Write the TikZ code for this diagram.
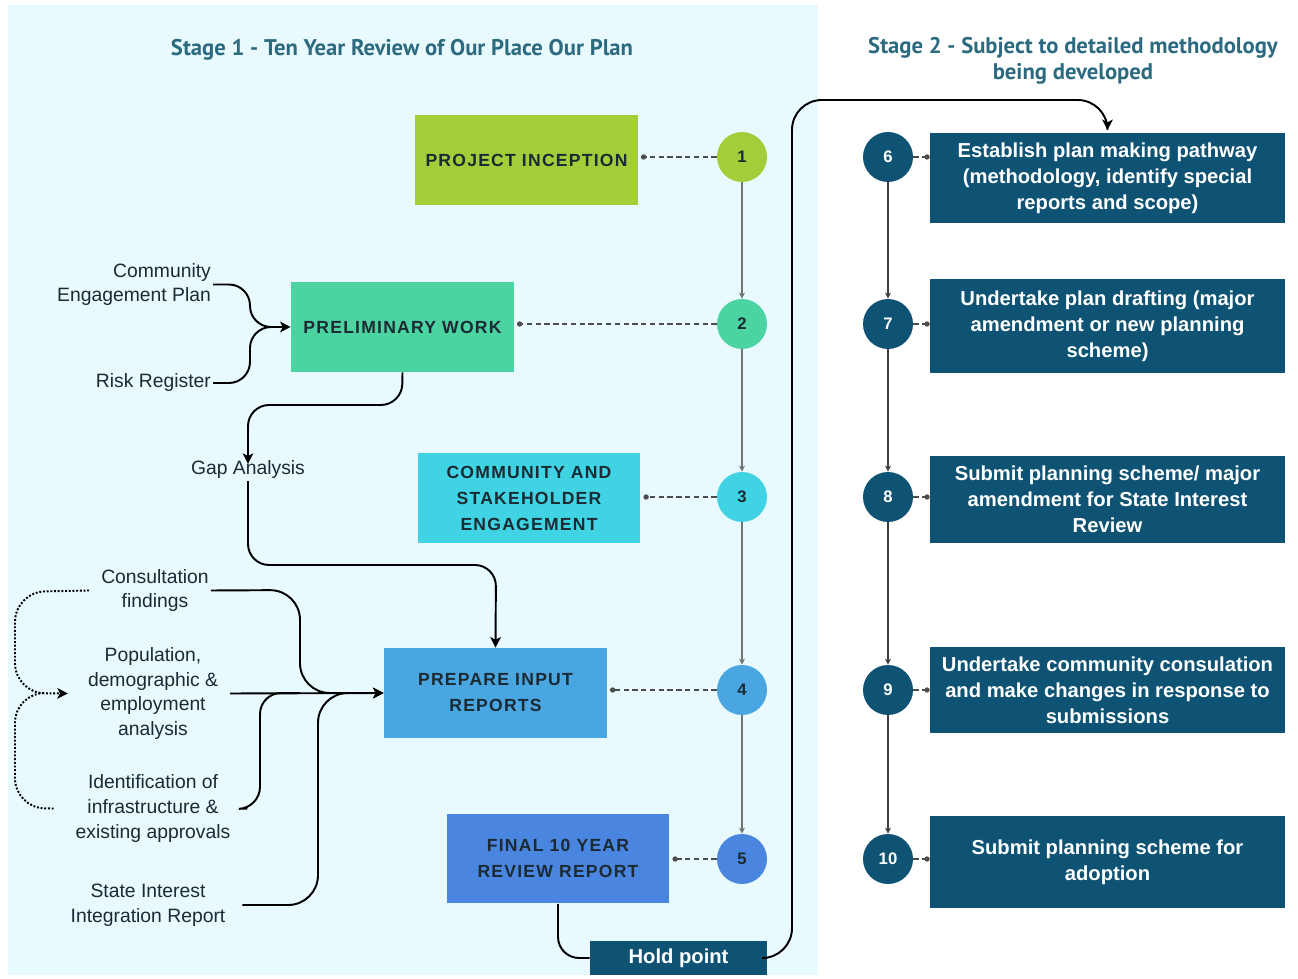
\documentclass[tikz,border=0pt]{standalone}
\usepackage{fontspec}
\setmainfont{Liberation Sans}
\newfontfamily\titlefont{PT Sans}
\newfontfamily\capsfont[LetterSpace=7]{Liberation Sans}
\usetikzlibrary{arrows.meta}
\definecolor{panel}{HTML}{E8FAFD}
\definecolor{heading}{HTML}{2C6A80}
\definecolor{ink}{HTML}{1B2A33}
\definecolor{deep}{HTML}{0E5374}
\definecolor{lime}{HTML}{A4CE39}
\definecolor{mint}{HTML}{4BD3A2}
\definecolor{aqua}{HTML}{40D3E3}
\definecolor{sky}{HTML}{4AA6E1}
\definecolor{royal}{HTML}{4A86E0}
\begin{document}
\begin{tikzpicture}[x=0.02cm,y=-0.02cm,
	stage/.style={align=center,text=heading,font=\titlefont\bfseries\fontsize{12.9}{14.8}\selectfont},
	lbox/.style={minimum width=4.46cm,minimum height=1.8cm,align=center,text=ink,inner sep=0pt,font=\capsfont\bfseries\fontsize{10}{14.8}\selectfont},
	rbox/.style={fill=deep,minimum width=7.1cm,align=center,text=white,inner sep=0pt,font=\bfseries\fontsize{11.5}{14.8}\selectfont},
	lstep/.style={circle,minimum size=1cm,inner sep=0pt,text=ink,font=\bfseries\fontsize{9.5}{10}\selectfont},
	rstep/.style={circle,fill=deep,minimum size=1cm,inner sep=0pt,text=white,font=\bfseries\fontsize{9.5}{10}\selectfont},
	note/.style={align=center,text=ink,inner sep=1pt,font=\fontsize{11}{14.2}\selectfont},
	flow/.style={line width=1.1pt,rounded corners=12pt,-{Stealth[length=6pt,width=6pt,inset=1.5pt]}},
	link/.style={densely dashed,draw=black!70,line width=0.6pt,-{Circle[length=3pt]}},
	seq/.style={draw=black!55,line width=0.8pt,-{Stealth[length=3.5pt,width=3.5pt]}}]
	\useasboundingbox (0,0) rectangle (1298,979);
	\fill [panel] (8,5) rectangle (818,975);
	\node [stage] (st1) at (402,50) {Stage 1 - Ten Year Review of Our Place Our Plan};
	\node [stage] (st2) at (1073,61) {Stage 2 - Subject to detailed methodology\\being developed};
	\node [lbox,fill=lime] (incept) at (526.5,160) {PROJECT INCEPTION};
	\node [lbox,fill=mint] (prelim) at (402.5,327) {PRELIMINARY WORK};
	\node [lbox,fill=aqua] (engage) at (529,498) {COMMUNITY AND\\STAKEHOLDER\\ENGAGEMENT};
	\node [lbox,fill=sky] (inputs) at (495.5,693) {PREPARE INPUT\\REPORTS};
	\node [lbox,fill=royal] (final) at (558,858.5) {FINAL 10 YEAR\\REVIEW REPORT};
	\node [rbox,minimum width=3.54cm,minimum height=0.68cm] (hold) at (678.5,958) {Hold point};
	\node [lstep,fill=lime] (s1) at (742,157) {1};
	\node [lstep,fill=mint] (s2) at (742,324) {2};
	\node [lstep,fill=aqua] (s3) at (742,497) {3};
	\node [lstep,fill=sky] (s4) at (742,690) {4};
	\node [lstep,fill=royal] (s5) at (742,859) {5};
	\node [rstep] (s6) at (888,157) {6};
	\node [rstep] (s7) at (888,324) {7};
	\node [rstep] (s8) at (888,497) {8};
	\node [rstep] (s9) at (888,690) {9};
	\node [rstep] (s10) at (888,859) {10};
	\node [rbox,minimum height=1.8cm] (path) at (1107.5,178) {Establish plan making pathway\\(methodology, identify special\\reports and scope)};
	\node [rbox,minimum height=1.88cm] (draft) at (1107.5,326) {Undertake plan drafting (major\\amendment or new planning\\scheme)};
	\node [rbox,minimum height=1.74cm] (submit) at (1107.5,499.5) {Submit planning scheme/ major\\amendment for State Interest\\Review};
	\node [rbox,minimum height=1.72cm] (consult) at (1107.5,690) {Undertake community consulation\\and make changes in response to\\submissions};
	\node [rbox,minimum height=1.84cm] (adopt) at (1107.5,862) {Submit planning scheme for\\adoption};
	\node [note,align=right,anchor=east] (cep) at (213,284.5) {Community\\Engagement Plan};
	\node [note,anchor=east] (risk) at (213,383) {Risk Register};
	\node [note] (gap) at (248,470) {Gap Analysis};
	\node [note] (cons) at (155,590.5) {Consultation\\findings};
	\node [note] (pop) at (153,693.5) {Population,\\demographic \&\\employment\\analysis};
	\node [note] (ident) at (153,808.5) {Identification of\\infrastructure \&\\existing approvals};
	\node [note] (sir) at (148,905) {State Interest\\Integration Report};
	\foreach \a/\b in {s1/s2,s2/s3,s3/s4,s4/s5}
		\draw [seq] (\a) -- (\b);
	\foreach \a/\b in {s6/s7,s7/s8,s8/s9,s9/s10}
		\draw [seq,draw=black!75] (\a) -- (\b);
	\foreach \a/\b in {s1/incept,s2/prelim,s3/engage,s4/inputs,s5/final}
		\draw [link,shorten >=1.5pt] (\a.west) -- (\a.west -| \b.east);
	\foreach \a/\b in {s6/path,s7/draft,s8/submit,s9/consult,s10/adopt}
		\draw [link] (\a.east) -- (\a.east -| \b.west);
	\draw [flow] (cep.east) -- (250,284.5) -- (250,327) -- (prelim.west);
	\draw [flow,-] (risk.east) -- (250,383) -- (250,327) -- (275,327);
	\draw [flow] (prelim.south) -- (402,405) -- (248,405) -- ([yshift=-0.1cm]gap.north);
	\draw [flow] (gap.south) -- (248,565) -- (496,565) -- (inputs.north);
	\draw [flow,rounded corners=17pt] (cons.east) -- (300,590) -- (300,693) -- (inputs.west);
	\draw [flow] ([xshift=0.2cm]pop.east) -- (inputs.west);
	\draw [flow,-] ([xshift=0.3cm]ident.east) -- (260,808) -- (260,693) -- (300,693);
	\draw [flow,-,rounded corners=17pt] ([xshift=0.3cm]sir.east) -- (318,905) -- (318,693) -- (350,693);
	\draw [flow,densely dotted,rounded corners=17pt] ([xshift=-0.2cm]cons.west) -- (15,592) -- (15,693) -- ([xshift=-0.36cm]pop.west);
	\draw [flow,densely dotted,-,rounded corners=17pt] ([xshift=-0.4cm]ident.west) -- (15,808) -- (15,693) -- (40,693);
	\draw [flow,-] (final.south) -- (558,958) -- (hold.west);
	\draw [flow,rounded corners=17pt] (hold.east) -- (792,958) -- (792,100) -- (1107.5,100) -- ([yshift=0.05cm]path.north);
\end{tikzpicture}
\end{document}
